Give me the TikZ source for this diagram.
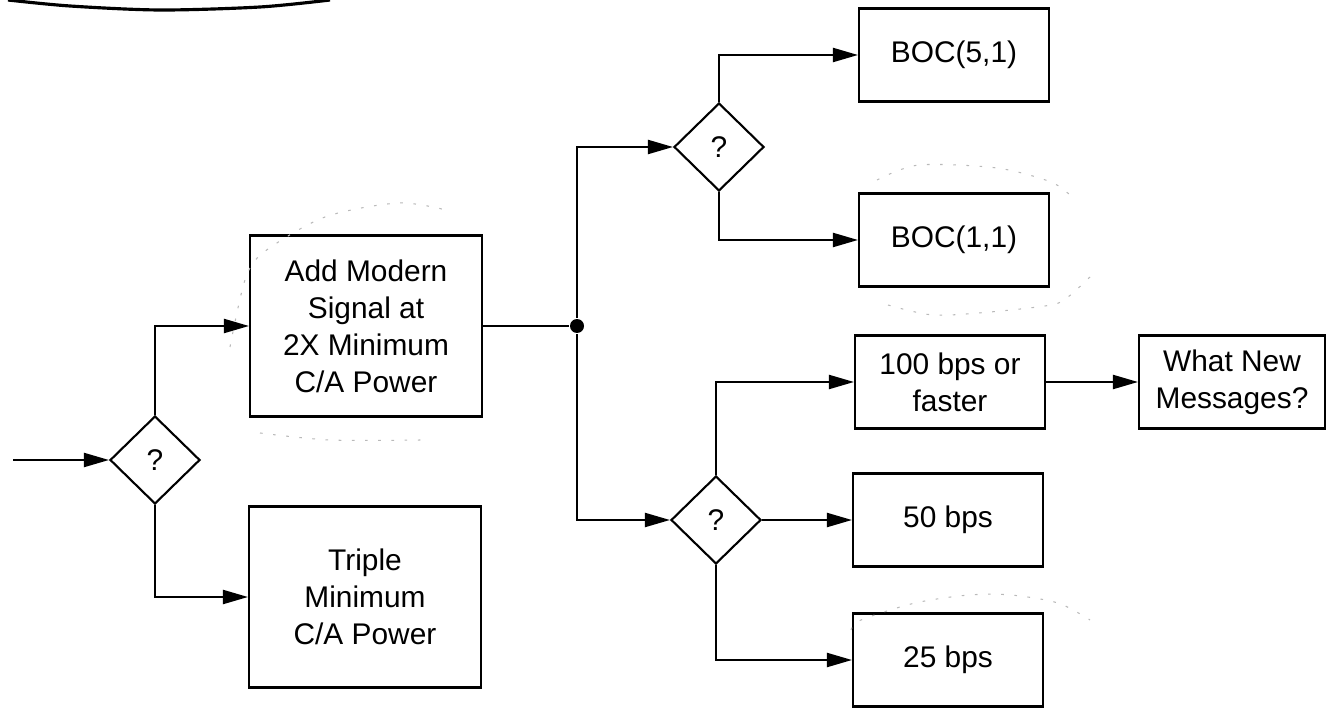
\documentclass[tikz,border=0pt]{standalone}
\usepackage{fontspec}
\setmainfont{Liberation Sans}
\usetikzlibrary{shapes.geometric,arrows.meta}

\tikzset{
  box/.style={draw, rectangle, minimum width=3.8cm, minimum height=1.86cm, align=center, inner sep=2pt},
  bigbox/.style={box, minimum width=4.64cm, minimum height=3.62cm},
  ask/.style={draw, diamond, minimum width=1.8cm, minimum height=1.76cm, inner sep=0pt},
  arr/.style={-{Triangle[length=5mm,width=2.8mm]}},
  dot/.style={circle, fill, inner sep=0pt, minimum size=2.8mm},
  scribble/.style={gray!55, line width=0.6pt, dash pattern=on 1.5pt off 6pt},
}

\begin{document}
\begin{tikzpicture}[x=0.02cm, y=-0.02cm, line width=1.2pt, font=\fontsize{17}{21}\selectfont]

  \useasboundingbox (0,0) rectangle (1332,719);

  % ---------- first decision ----------
  \coordinate (in) at (13,460);
  \node[ask] (dleft) at (155,460) {?};
  \node[bigbox] (modern) at (366,326) {Add Modern\\Signal at\\2X Minimum\\C/A Power};
  \node[bigbox] (triple) at (365,597) {Triple\\Minimum\\C/A Power};

  % ---------- signal and data rate decisions ----------
  \node[dot] (split) at (577,326) {};
  \node[ask] (dtop) at (719,147) {?};
  \node[ask] (dbot) at (716,520) {?};

  \node[box] (boc51) at (954,55) {BOC(5,1)};
  \node[box] (boc11) at (954,240) {BOC(1,1)};
  \node[box] (fast) at (950,382) {100 bps or\\faster};
  \node[box] (slow50) at (948,520) {50 bps};
  \node[box] (slow25) at (948,660) {25 bps};
  \node[box, minimum width=3.72cm] (newmsg) at (1232,382) {What New\\Messages?};

  % ---------- connectors ----------
  \draw[arr] (in) -- (dleft.west);
  \draw[arr] (dleft.north) |- (modern.west);
  \draw[arr] (dleft.south) |- (triple.west);
  \draw (modern.east) -- (split);
  \draw[arr] (split) |- (dtop.west);
  \draw[arr] (split) |- (dbot.west);
  \draw[arr] (dtop.north) |- (boc51.west);
  \draw[arr] (dtop.south) |- (boc11.west);
  \draw[arr] (dbot.north) |- (fast.west);
  \draw[arr] (dbot.east) -- (slow50.west);
  \draw[arr] (dbot.south) |- (slow25.west);
  \draw[arr] (fast.east) -- (newmsg.west);

  % ---------- pencil marks ----------
  \draw[line width=1.8pt] plot[smooth] coordinates {(8,0) (70,6) (160,10) (260,7) (330,0)};
  \draw[scribble] plot[smooth] coordinates {(230,347) (245,280) (264,252) (325,217) (398,203) (446,210)};
  \draw[scribble] plot[smooth] coordinates {(260,433) (330,440) (421,440)};
  \draw[scribble] plot[smooth] coordinates {(877,180) (919,165) (997,168) (1051,182) (1072,197)};
  \draw[scribble] plot[smooth] coordinates {(1090,277) (1068,297) (1051,305) (990,312) (933,315) (888,305)};
  \draw[scribble] plot[smooth] coordinates {(851,630) (861,620) (915,603) (969,595) (1011,595) (1058,603) (1090,620)};

\end{tikzpicture}
\end{document}
